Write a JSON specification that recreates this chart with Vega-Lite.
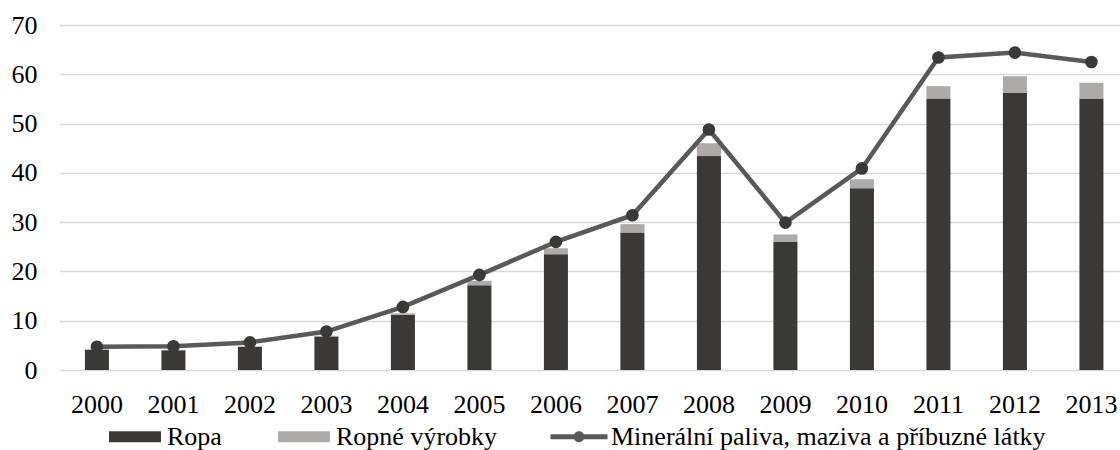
{
  "$schema": "https://vega.github.io/schema/vega-lite/v6.json",
  "autosize": {"type": "none"},
  "padding": {"left": 59, "top": 25, "right": 0, "bottom": 80},
  "width": 1061,
  "height": 345,
  "config": {
    "font": "Liberation Serif",
    "view": {"stroke": null},
    "axis": {"labelFont": "Liberation Serif", "labelFontSize": 26, "labelColor": "#000000"},
    "legend": {"labelFont": "Liberation Serif", "labelFontSize": 26, "labelColor": "#000000", "labelLimit": 1000}
  },
  "datasets": {
    "bars": [
      {"year": "2000", "series": "Ropa", "value": 4.1},
      {"year": "2000", "series": "Ropné výrobky", "value": 0.1},
      {"year": "2001", "series": "Ropa", "value": 4.0},
      {"year": "2001", "series": "Ropné výrobky", "value": 0.1},
      {"year": "2002", "series": "Ropa", "value": 4.7},
      {"year": "2002", "series": "Ropné výrobky", "value": 0.1},
      {"year": "2003", "series": "Ropa", "value": 6.8},
      {"year": "2003", "series": "Ropné výrobky", "value": 0.15},
      {"year": "2004", "series": "Ropa", "value": 11.2},
      {"year": "2004", "series": "Ropné výrobky", "value": 0.3},
      {"year": "2005", "series": "Ropa", "value": 17.2},
      {"year": "2005", "series": "Ropné výrobky", "value": 0.9},
      {"year": "2006", "series": "Ropa", "value": 23.5},
      {"year": "2006", "series": "Ropné výrobky", "value": 1.2},
      {"year": "2007", "series": "Ropa", "value": 27.9},
      {"year": "2007", "series": "Ropné výrobky", "value": 1.7},
      {"year": "2008", "series": "Ropa", "value": 43.4},
      {"year": "2008", "series": "Ropné výrobky", "value": 2.6},
      {"year": "2009", "series": "Ropa", "value": 26.0},
      {"year": "2009", "series": "Ropné výrobky", "value": 1.5},
      {"year": "2010", "series": "Ropa", "value": 36.9},
      {"year": "2010", "series": "Ropné výrobky", "value": 1.8},
      {"year": "2011", "series": "Ropa", "value": 55.1},
      {"year": "2011", "series": "Ropné výrobky", "value": 2.5},
      {"year": "2012", "series": "Ropa", "value": 56.2},
      {"year": "2012", "series": "Ropné výrobky", "value": 3.4},
      {"year": "2013", "series": "Ropa", "value": 55.1},
      {"year": "2013", "series": "Ropné výrobky", "value": 3.2}
    ],
    "line": [
      {"year": "2000", "value": 4.7},
      {"year": "2001", "value": 4.8},
      {"year": "2002", "value": 5.6},
      {"year": "2003", "value": 7.8},
      {"year": "2004", "value": 12.8},
      {"year": "2005", "value": 19.3},
      {"year": "2006", "value": 26.0},
      {"year": "2007", "value": 31.4},
      {"year": "2008", "value": 48.8},
      {"year": "2009", "value": 29.9},
      {"year": "2010", "value": 40.9},
      {"year": "2011", "value": 63.4},
      {"year": "2012", "value": 64.4},
      {"year": "2013", "value": 62.5}
    ]
  },
  "encoding": {
    "x": {
      "field": "year", "type": "ordinal", "title": null,
      "scale": {"paddingInner": 0.686, "paddingOuter": 0.2775, "align": 0.61},
      "axis": {"labelAngle": 0, "ticks": false, "domain": false, "labelPadding": 21, "grid": false}
    }
  },
  "layer": [
    {
      "data": {"name": "bars"},
      "mark": {"type": "bar"},
      "encoding": {
        "y": {
          "field": "value", "type": "quantitative", "stack": "zero", "title": null,
          "scale": {"domain": [0, 70], "nice": false},
          "axis": {"values": [0, 10, 20, 30, 40, 50, 60, 70], "ticks": false, "domain": false, "labelPadding": 22, "gridColor": "#D9D9D9", "gridWidth": 1.5}
        },
        "color": {
          "field": "series", "type": "nominal", "title": null,
          "scale": {
            "domain": ["Ropa", "Ropné výrobky", "Minerální paliva, maziva a příbuzné látky"],
            "range": ["#3B3838", "#AEAAAA", "#595959"]
          },
          "legend": {
            "orient": "none",
            "direction": "horizontal",
            "legendX": 47.5,
            "legendY": 383,
            "padding": 0,
            "symbolSize": 3249,
            "symbolStrokeWidth": 0,
            "labelOffset": 3.5,
            "labelLimit": 1000,
            "columnPadding": 53,
            "encode": {
              "symbols": {
                "update": {
                  "shape": {"signal": "datum.value === 'Minerální paliva, maziva a příbuzné látky' ? 'M-1,-0.09H1V0.09H-1Z M-0.19,0A0.19,0.19 0 1,1 0.19,0A0.19,0.19 0 1,1 -0.19,0Z' : 'M-0.912,-0.193H0.912V0.193H-0.912Z'"},
                  "fill": {"signal": "datum.value === 'Ropa' ? '#3B3838' : datum.value === 'Ropné výrobky' ? '#AEAAAA' : '#595959'"},
                  "fillOpacity": {"value": 1},
                  "opacity": {"value": 1},
                  "strokeWidth": {"value": 0},
                  "size": {"value": 3249}
                }
              }
            }
          }
        },
        "order": {"field": "series", "sort": "ascending"}
      }
    },
    {
      "data": {"name": "line"},
      "mark": {"type": "line", "strokeWidth": 4.5},
      "encoding": {
        "y": {"field": "value", "type": "quantitative"},
        "color": {"datum": "Minerální paliva, maziva a příbuzné látky"}
      }
    },
    {
      "data": {"name": "line"},
      "mark": {"type": "point", "filled": true, "size": 160, "opacity": 1, "color": "#3B3838"},
      "encoding": {
        "y": {"field": "value", "type": "quantitative"}
      }
    }
  ]
}
